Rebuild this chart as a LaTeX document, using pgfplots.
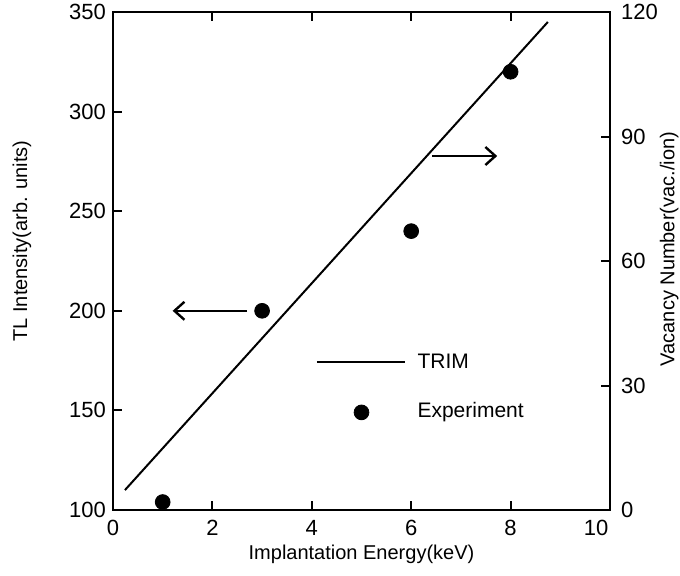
\documentclass[border=0pt]{standalone}
\usepackage{pgfplots}
\pgfplotsset{compat=1.18}
\usepackage{fontspec}
\setmainfont{Liberation Sans}
\usetikzlibrary{arrows.meta}
\begin{document}
\begin{tikzpicture}
\path[use as bounding box] (-56.5pt,-32.5pt) rectangle (283.5pt,255pt);
\pgfplotsset{
  common/.style={
    scale only axis, width=248.5pt, height=249pt,
    xmin=0, xmax=10,
    tick align=inside, major tick length=4.5pt,
    every tick/.style={line width=1pt, black},
    axis line style={line width=1.1pt},
    /pgf/number format/assume math mode=true,
    tick label style={font=\fontsize{11}{13}\selectfont},
    label style={font=\fontsize{10}{12}\selectfont},
  }
}
\begin{axis}[common,
  at={(0,0)}, anchor=south west,
  ymin=100, ymax=350,
  xtick={0,2,4,6,8,10},
  xticklabels={0,2,4,6,8,\hspace*{-14pt}10},
  xticklabel style={yshift=-1.5pt},
  ytick={100,150,200,250,300,350},
  ytick pos=left,
  xtick pos=both,
  xticklabel pos=lower,
  xlabel={Implantation Energy(keV)},
  xlabel style={at={(axis description cs:0.5,-0.09)}, anchor=center},
  ylabel={TL Intensity(arb. units)},
  ylabel style={at={(axis description cs:-0.183,0.54)}, anchor=center, rotate=0},
]
\addplot[only marks, mark=*, mark size=3.7pt, black] coordinates {
  (1,104) (3,200) (6,240) (8,320)
};
% legend marker
\addplot[only marks, mark=*, mark size=3.7pt, black] coordinates {(5,149)};
\draw[line width=1pt] (axis cs:4.1,174.5) -- (axis cs:5.88,174.5);
\node[anchor=west, font=\fontsize{10.5}{12}\selectfont, inner sep=0pt] at (axis cs:6.12,174.5) {TRIM};
\node[anchor=west, font=\fontsize{10.5}{12}\selectfont, inner sep=0pt] at (axis cs:6.12,149) {Experiment};
\draw[line width=1.2pt, -{Straight Barb[length=5pt,width=9pt,line width=1.2pt]}] (axis cs:2.7,200) -- (axis cs:1.2,200);
\end{axis}
\begin{axis}[common,
  at={(0,0)}, anchor=south west,
  ymin=0, ymax=120,
  axis x line=none,
  axis y line*=right,
  ytick={0,30,60,90,120},
  yticklabel style={xshift=2pt},
  ylabel={Vacancy Number(vac./ion)},
  ylabel style={at={(axis description cs:1.119,0.524)}, anchor=center, rotate=0},
]
\addplot[black, line width=1pt] coordinates {(0.24,4.8) (8.75,117.6)};
\draw[line width=1.2pt, -{Straight Barb[length=5pt,width=9pt,line width=1.2pt]}] (axis cs:6.42,85.3) -- (axis cs:7.73,85.3);
\end{axis}
\end{tikzpicture}
\end{document}
